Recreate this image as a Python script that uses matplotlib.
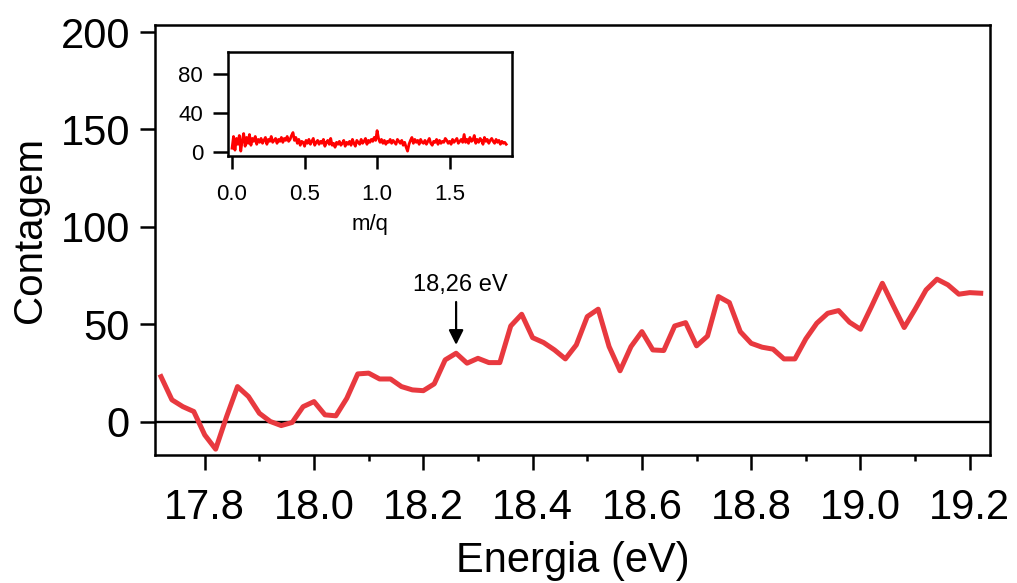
import numpy as np
import matplotlib
matplotlib.use('Agg')
import matplotlib.pyplot as plt
from matplotlib.ticker import MultipleLocator

plt.rcParams['font.family'] = ['Liberation Sans', 'DejaVu Sans']

# espectro principal (energia em eV, passo 0.02)
energia = np.round(np.arange(17.72, 19.2201, 0.02), 2)
contagem = [23.2, 11.3, 7.8, 5.3, -6.7, -14.0, 2.7, 18.1, 13.0, 4.4,
            0.2, -1.9, -0.3, 7.8, 10.4, 3.6, 3.1, 12.1, 24.6, 25.0,
            22.0, 22.0, 18.1, 16.4, 16.0, 19.5, 31.8, 35.2, 30.1, 32.6,
            30.4, 30.4, 49.2, 55.2, 43.2, 40.7, 36.9, 32.3, 39.5, 54.0,
            57.8, 38.6, 26.2, 38.6, 46.3, 36.9, 36.6, 49.2, 50.9, 39.0,
            44.0, 64.3, 61.2, 46.3, 40.3, 38.3, 37.3, 32.3, 32.3, 42.6,
            50.6, 55.7, 57.1, 51.1, 47.5, 59.1, 71.1, 59.6, 48.4, 57.8,
            67.7, 73.2, 70.3, 65.5, 66.3, 66.0]

# inset: espectro de massa (m/q)
mq = np.round(np.arange(0, 1.895, 0.01), 2)
mq_contagem = [4, 16, 2, 14, 8, 17, 1, 12, 19, 6,
               15, 9, 18, 7, 14, 11, 16, 8, 13, 10,
               14, 9, 12, 15, 8, 13, 11, 16, 10, 12,
               14, 9, 13, 11, 15, 10, 14, 12, 16, 11,
               13, 17, 20, 12, 15, 9, 13, 7, 11, 10,
               6, 12, 9, 13, 8, 11, 14, 7, 10, 12,
               8, 11, 9, 13, 6, 10, 12, 8, 14, 7,
               9, 5, 10, 8, 11, 7, 9, 12, 6, 10,
               8, 11, 7, 13, 9, 6, 12, 10, 8, 13,
               9, 11, 14, 8, 12, 10, 13, 11, 15, 12,
               22, 14, 10, 13, 9, 12, 8, 11, 10, 13,
               9, 12, 10, 8, 13, 11, 9, 12, 7, 10,
               5, 1, 8, 12, 15, 9, 13, 10, 12, 8,
               13, 10, 9, 12, 8, 11, 14, 9, 7, 11,
               10, 13, 8, 12, 9, 11, 10, 14, 12, 9,
               11, 8, 13, 10, 12, 14, 9, 11, 13, 10,
               18, 10, 13, 9, 15, 11, 12, 17, 9, 13,
               10, 14, 12, 8, 15, 11, 13, 9, 12, 14,
               11, 9, 13, 10, 12, 8, 11, 9, 10, 8]

W, H = 1017, 583
fig = plt.figure(figsize=(W / 100, H / 100), dpi=100)

# eixo principal
ax = fig.add_axes([155 / W, 1 - 455 / H, 835 / W, 430 / H])
ax.plot(energia, contagem, color='#E8393F', lw=3.6)
ax.axhline(0, color='black', lw=1.7, zorder=1)
ax.set_xlim(17.709, 19.237)
ax.set_ylim(-17, 203.6)
ax.set_yticks([0, 50, 100, 150, 200])
ax.xaxis.set_major_locator(MultipleLocator(0.2))
ax.xaxis.set_minor_locator(MultipleLocator(0.1))
ax.xaxis.set_major_formatter(matplotlib.ticker.FormatStrFormatter('%.1f'))
ax.tick_params(axis='both', which='major', labelsize=30, length=11, width=1.8, direction='out')
ax.tick_params(axis='x', which='major', pad=13)
ax.tick_params(axis='y', which='major', pad=7)
ax.tick_params(axis='x', which='minor', length=4.5, width=1.8)
for s in ax.spines.values():
    s.set_linewidth(1.8)

ax.annotate('', xy=(18.26, 39.5), xytext=(18.26, 61.5),
            arrowprops=dict(arrowstyle='-|>', color='black', lw=1.6,
                            mutation_scale=22, shrinkA=0, shrinkB=0))
ax.text(18.267, 67, '18,26 eV', ha='center', va='baseline', fontsize=17)

fig.text(30 / W, 1 - 230 / H, 'Contagem', rotation=90, ha='center', va='center', fontsize=29)
fig.text(573 / W, 1 - 561 / H, 'Energia (eV)', ha='center', va='center', fontsize=30)

# inset
ins = fig.add_axes([228 / W, 1 - 156 / H, 284 / W, 104 / H])
ins.plot(mq, mq_contagem, color='#FF0000', lw=2)
ins.set_xlim(-0.028, 1.93)
ins.set_ylim(-4, 102.5)
ins.set_yticks([0, 40, 80])
ins.set_xticks([0, 0.5, 1.0, 1.5])
ins.set_xticklabels(['0.0', '0.5', '1.0', '1.5'])
ins.tick_params(axis='both', labelsize=16, width=1.8, direction='out')
ins.tick_params(axis='x', length=9.5, pad=11)
ins.tick_params(axis='y', length=11, pad=7)
ins.set_xlabel('m/q', fontsize=16, labelpad=6)
for s in ins.spines.values():
    s.set_linewidth(1.8)

fig.savefig('out.png', dpi=100)
